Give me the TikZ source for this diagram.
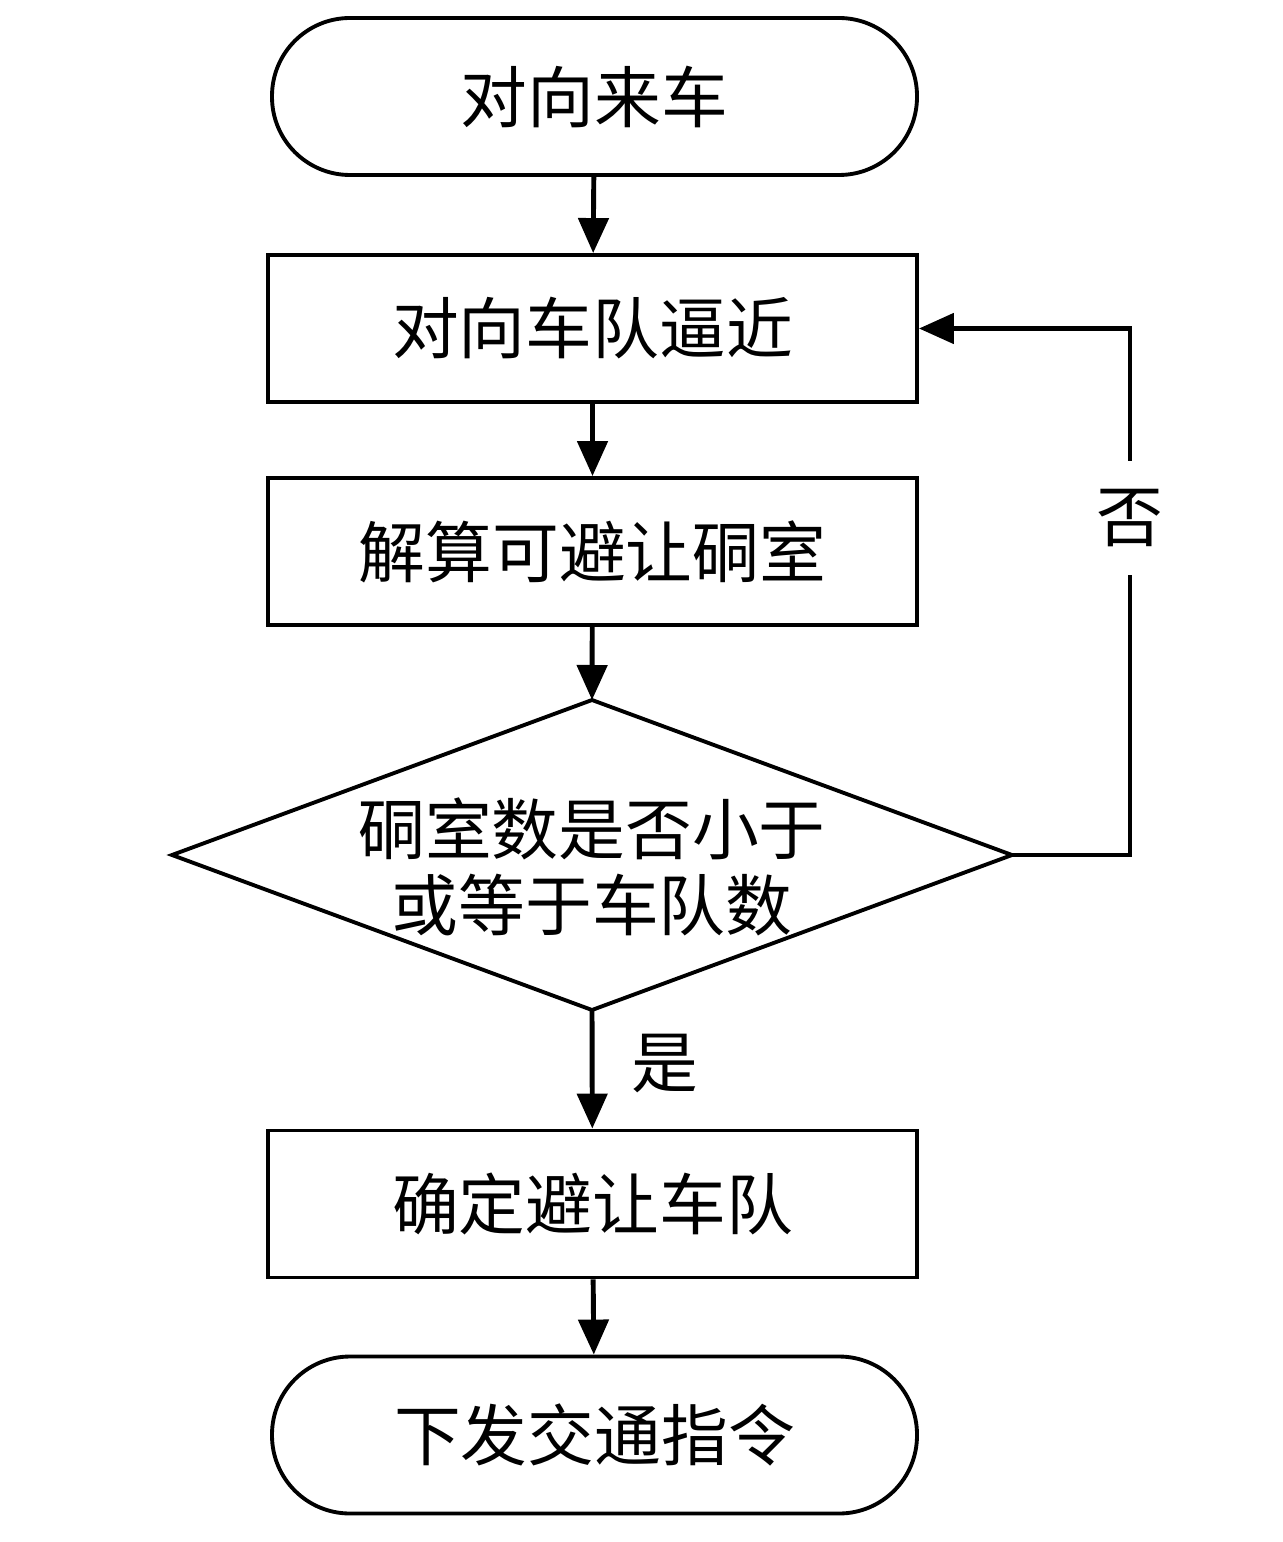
\documentclass[tikz,border=0pt]{standalone}
\usepackage{fontspec}
\newfontfamily\cjk{Noto Sans CJK SC}
\usetikzlibrary{arrows.meta}
\begin{document}
\begin{tikzpicture}[
  every node/.style={font=\cjk\fontsize{19}{24}\selectfont},
  terminal/.style={draw,line width=1.1pt,rounded corners=0.78cm,minimum width=6.45cm,minimum height=1.57cm},
  stepbox/.style={draw,line width=1.1pt,minimum width=6.49cm,minimum height=1.47cm},
  decisiontext/.style={align=center,font=\cjk\fontsize{19}{21.5}\selectfont},
  outline/.style={line width=1.1pt},
  flow/.style={line width=1.4pt,-{Triangle[length=0.35cm,width=0.3cm]}}
]
\useasboundingbox (0,0) rectangle (12.82,-15.42);
\node[terminal] (start) at (5.945,-0.965) {对向来车};
\node[stepbox] (b1) at (5.925,-3.285) {对向车队逼近};
\node[stepbox] (b2) at (5.925,-5.515) {解算可避让硐室};
\coordinate (dt) at (5.92,-7.00);
\coordinate (db) at (5.92,-10.10);
\coordinate (dl) at (1.72,-8.55);
\coordinate (dr) at (10.12,-8.55);
\draw[outline] (dt) -- (dr) -- (db) -- (dl) -- cycle;
\node[decisiontext] (d) at (5.92,-8.67) {硐室数是否小于\\或等于车队数};
\node[stepbox] (b3) at (5.925,-12.04) {确定避让车队};
\node[terminal] (end) at (5.945,-14.35) {下发交通指令};
\coordinate (c1) at (11.30,-8.55);
\coordinate (c2) at (11.30,-3.285);
\draw[flow] (start) -- (b1);
\draw[flow] (b1) -- (b2);
\draw[flow] (b2) -- (dt);
\draw[flow] (db) -- node[right=0.25cm,pos=0.45] (yes) {是} (b3);
\draw[flow] (b3) -- (end);
\draw[flow] (dr) -- (c1) -- node[fill=white,inner ysep=8pt,pos=0.64] (no) {否} (c2) -- (b1.east);
\end{tikzpicture}
\end{document}
